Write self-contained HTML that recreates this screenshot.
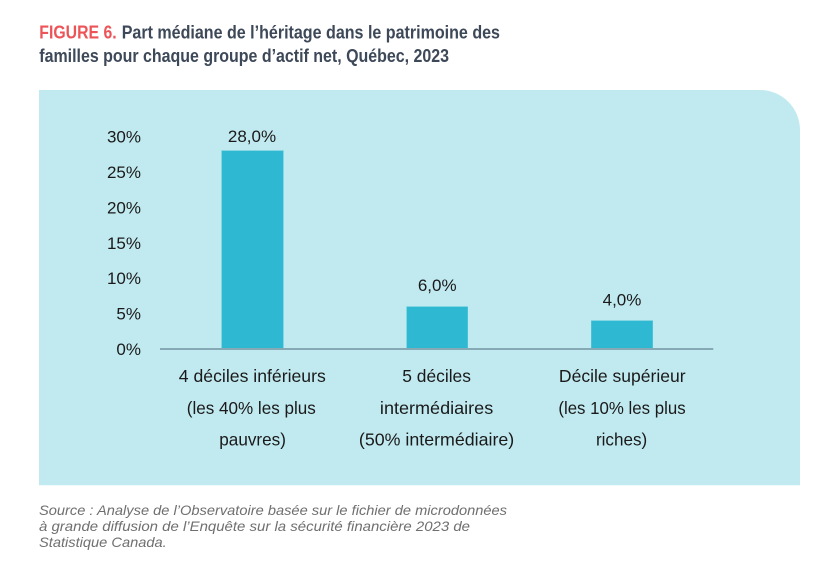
<!DOCTYPE html>
<html>
<head>
<meta charset="utf-8">
<style>
  html, body { margin: 0; padding: 0; background: #ffffff; }
  body { width: 818px; height: 567px; overflow: hidden; }
  svg { display: block; }
  text { font-family: "Liberation Sans", "DejaVu Sans", sans-serif; }
</style>
</head>
<body>
<svg width="818" height="567" viewBox="0 0 818 567" xmlns="http://www.w3.org/2000/svg">
  <rect x="0" y="0" width="818" height="567" fill="#ffffff"/>

  <!-- Title -->
  <text x="39.3" y="38.7" font-size="18" font-weight="bold" fill="#ec5457" textLength="77.4" lengthAdjust="spacingAndGlyphs">FIGURE 6.</text>
  <text x="121.7" y="38.7" font-size="18" font-weight="bold" fill="#3d4858" textLength="378.3" lengthAdjust="spacingAndGlyphs">Part médiane de l’héritage dans le patrimoine des</text>
  <text x="39.3" y="62" font-size="18" font-weight="bold" fill="#3d4858" textLength="409.7" lengthAdjust="spacingAndGlyphs">familles pour chaque groupe d’actif net, Québec, 2023</text>

  <!-- Panel -->
  <path d="M39,90 H760 A40,40 0 0 1 800,130 V485.3 H39 Z" fill="#c1eaf0"/>

  <!-- Y axis labels -->
  <g font-size="17" fill="#1a1a1a" text-anchor="end">
    <text x="141" y="142.5">30%</text>
    <text x="141" y="178">25%</text>
    <text x="141" y="213.4">20%</text>
    <text x="141" y="248.8">15%</text>
    <text x="141" y="284.2">10%</text>
    <text x="141" y="319.6">5%</text>
    <text x="141" y="355">0%</text>
  </g>

  <!-- Bars -->
  <rect x="221.7" y="150.7" width="61.6" height="198.3" fill="#2fb8d1" stroke="#5cc8da" stroke-width="0.6"/>
  <rect x="406.7" y="306.7" width="61" height="42.3" fill="#2fb8d1" stroke="#5cc8da" stroke-width="0.6"/>
  <rect x="591.3" y="320.7" width="61.4" height="28.3" fill="#2fb8d1" stroke="#5cc8da" stroke-width="0.6"/>

  <!-- Axis line -->
  <line x1="160" y1="349" x2="713.3" y2="349" stroke="#86a9b6" stroke-width="2"/>

  <!-- Bar value labels -->
  <g font-size="17" fill="#1a1a1a" text-anchor="middle">
    <text x="252" y="142">28,0%</text>
    <text x="437.2" y="291">6,0%</text>
    <text x="622" y="305.3">4,0%</text>
  </g>

  <!-- Category labels -->
  <g font-size="17.5" fill="#1a1a1a" text-anchor="middle">
    <text x="252.3" y="382" textLength="147" lengthAdjust="spacingAndGlyphs">4 déciles inférieurs</text>
    <text x="251.3" y="414" textLength="129" lengthAdjust="spacingAndGlyphs">(les 40% les plus</text>
    <text x="252.6" y="445.5" textLength="66.7" lengthAdjust="spacingAndGlyphs">pauvres)</text>

    <text x="436.6" y="382" textLength="68.7" lengthAdjust="spacingAndGlyphs">5 déciles</text>
    <text x="436.6" y="414" textLength="113.3" lengthAdjust="spacingAndGlyphs">intermédiaires</text>
    <text x="436.6" y="445.5" textLength="155.3" lengthAdjust="spacingAndGlyphs">(50% intermédiaire)</text>

    <text x="622.3" y="382" textLength="126.7" lengthAdjust="spacingAndGlyphs">Décile supérieur</text>
    <text x="622" y="414" textLength="127.3" lengthAdjust="spacingAndGlyphs">(les 10% les plus</text>
    <text x="621.6" y="445.5" textLength="51.3" lengthAdjust="spacingAndGlyphs">riches)</text>
  </g>

  <!-- Source -->
  <g font-size="14" font-style="italic" fill="#6f6f6f">
    <text x="39" y="515" textLength="468" lengthAdjust="spacingAndGlyphs">Source : Analyse de l’Observatoire basée sur le fichier de microdonnées</text>
    <text x="39" y="531" textLength="431" lengthAdjust="spacingAndGlyphs">à grande diffusion de l’Enquête sur la sécurité financière 2023 de</text>
    <text x="39" y="547" textLength="127.7" lengthAdjust="spacingAndGlyphs">Statistique Canada.</text>
  </g>
</svg>
</body>
</html>
